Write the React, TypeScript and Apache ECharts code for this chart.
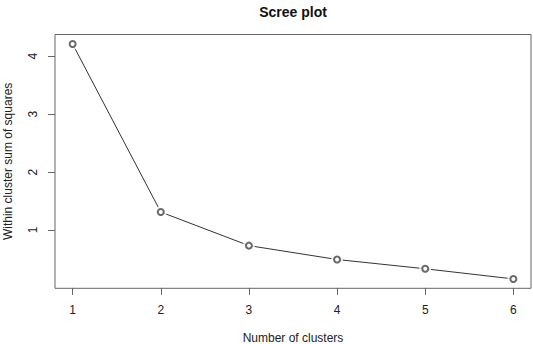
import React, { useEffect, useRef } from "react";
import * as echarts from "echarts";

const clusters = [1, 2, 3, 4, 5, 6];
const wss = [4.21, 1.31, 0.73, 0.49, 0.33, 0.155];
const xTicks = [1, 2, 3, 4, 5, 6];
const yTicks = [1, 2, 3, 4];

export default function App() {
  const ref = useRef<HTMLDivElement>(null);
  useEffect(() => {
    if (!ref.current) return;
    const chart = echarts.init(ref.current, null, { renderer: "svg" });
    const font = "Liberation Sans, Arial, sans-serif";
    const pts = clusters.map((c, i) => [c, wss[i]]);
    chart.setOption({
      animation: false,
      backgroundColor: "#fff",
      title: {
        text: "Scree plot",
        left: 288,
        textAlign: "center",
        top: 0,
        textStyle: { fontFamily: font, fontSize: 14, fontWeight: "bold", color: "#111" },
      },
      grid: {
        left: 55,
        right: 2,
        top: 34.5,
        bottom: 55.7,
        show: true,
        borderColor: "#666",
        borderWidth: 1,
        backgroundColor: "transparent",
        containLabel: false,
        outerBoundsMode: "none",
      },
      xAxis: {
        type: "value",
        min: 0.8,
        max: 6.2,
        name: "Number of clusters",
        nameLocation: "middle",
        nameGap: 44,
        nameTextStyle: { fontFamily: font, fontSize: 12, color: "#222" },
        axisLine: { show: false },
        splitLine: { show: false },
        axisTick: { show: true, length: 7, lineStyle: { color: "#666" }, customValues: xTicks },
        axisLabel: { fontFamily: font, fontSize: 12, color: "#222", margin: 16, customValues: xTicks },
      },
      yAxis: {
        type: "value",
        min: -0.007,
        max: 4.375,
        name: "Within cluster sum of squares",
        nameLocation: "middle",
        nameGap: 41,
        nameTextStyle: { fontFamily: font, fontSize: 12, color: "#222" },
        axisLine: { show: false },
        splitLine: { show: false },
        axisTick: { show: true, length: 7, lineStyle: { color: "#666" }, customValues: yTicks },
        axisLabel: { fontFamily: font, fontSize: 12, color: "#222", margin: 16, rotate: 90, customValues: yTicks },
      },
      series: [
        {
          type: "line",
          data: pts,
          symbol: "none",
          lineStyle: { color: "#333", width: 1 },
          z: 1,
        },
        {
          type: "scatter",
          data: pts,
          symbol: "circle",
          symbolSize: 12,
          itemStyle: { color: "#fff", borderWidth: 0 },
          z: 2,
        },
        {
          type: "scatter",
          data: pts,
          symbol: "emptyCircle",
          symbolSize: 6,
          itemStyle: { color: "#444", borderColor: "#444", borderWidth: 0.7 },
          z: 3,
        },
      ],
    });
    return () => chart.dispose();
  }, []);
  return <div ref={ref} style={{ width: 533, height: 344, position: "absolute", left: 0, top: 0 }} />;
}
